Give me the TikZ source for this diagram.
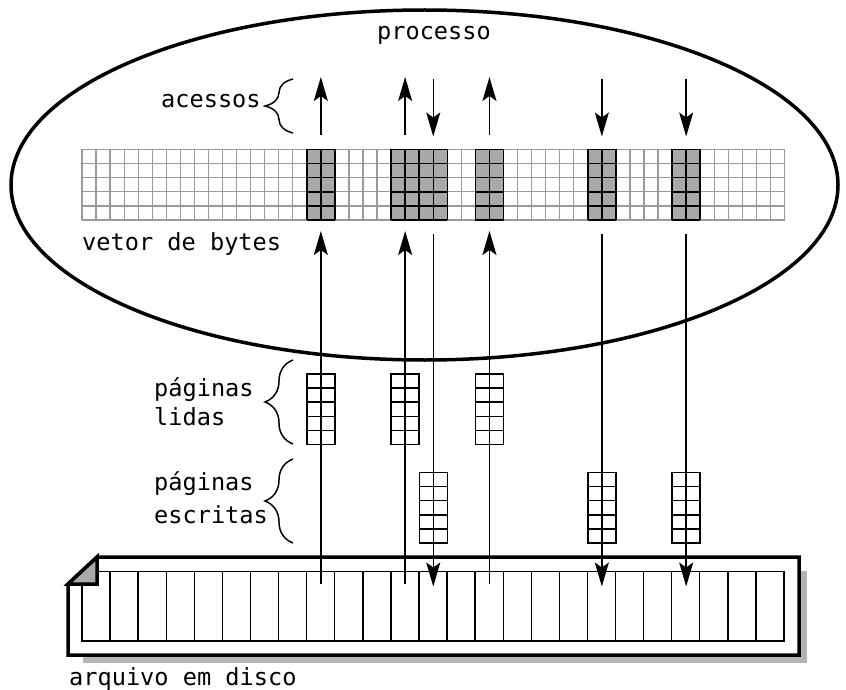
\documentclass[tikz,border=0pt]{standalone}
\usepackage{fontspec}
\newfontfamily\lblfont{DejaVu Sans Mono}
\usetikzlibrary{arrows.meta,decorations.pathreplacing}

\definecolor{cellgray}{HTML}{A9A9A9}
\definecolor{gridgray}{HTML}{9A9A9A}
\definecolor{shadowgray}{HTML}{B4B4B4}

\tikzset{
  lbl/.style={font=\lblfont\fontsize{23.6}{28}\selectfont, inner sep=0pt, anchor=base west},
  gridline/.style={draw=gridgray, line width=1.3pt},
  blockline/.style={draw=black, line width=1.5pt},
  pageline/.style={draw=black, line width=1.5pt},
  flow/.style={line width=1.5pt, -{Stealth[length=24pt, width=14pt, inset=5pt]}},
  bracket/.style={line width=1.5pt, decorate, decoration={brace, amplitude=28pt}},
  outline/.style={line width=3.5pt, line join=miter},
  pagegrid/.pic={
    \draw[pageline] (-14,0) rectangle (14,70.5);
    \draw[pageline] (0,0) -- (0,70.5);
    \foreach \j in {1,...,4} \draw[pageline] (-14,\j*14.1) -- (14,\j*14.1);
  }
}

\begin{document}
\begin{tikzpicture}[x=1pt, y=-1pt]
  % canvas
  \fill[white] (0,0) rectangle (846,690);
  \useasboundingbox (0,0) rectangle (846,690);

  % the process
  \draw[outline] (424.5,185) ellipse [x radius=413.5, y radius=175];
  \node[lbl, anchor=base] (proc) at (434,40) {processo};

  % byte vector: light grid
  \foreach \i in {0,...,50}
    \draw[gridline] ({82+\i*14.05},149.5) -- ++(0,70.5);
  \foreach \j in {0,...,5}
    \draw[gridline] (82,{149.5+\j*14.1}) -- (784.5,{149.5+\j*14.1});

  % accessed bytes
  \foreach \c/\n in {16/2, 22/4, 28/2, 36/2, 42/2} {
    \pgfmathsetmacro{\xa}{82+\c*14.05}
    \pgfmathsetmacro{\xb}{82+(\c+\n)*14.05}
    \fill[cellgray] (\xa,149.5) rectangle (\xb,220);
    \foreach \k in {0,...,\n}
      \draw[blockline] ({\xa+\k*14.05},149.5) -- ++(0,70.5);
    \foreach \j in {0,...,5}
      \draw[blockline] (\xa,{149.5+\j*14.1}) -- (\xb,{149.5+\j*14.1});
  }
  \node[lbl] (vec) at (82,250) {vetor de bytes};

  % accesses
  \node[lbl] (acc) at (161,108) {acessos};
  \draw[bracket] (293,133) -- (293,79);
  \foreach \x/\n in {320.85/a, 405.15/b, 489.45/c} {
    \coordinate (lo\n) at (\x,135);
    \coordinate (hi\n) at (\x,77);
    \draw[flow] (lo\n) -- (hi\n);
  }
  \foreach \x/\n in {433.25/d, 601.85/e, 686.15/f} {
    \coordinate (hi\n) at (\x,79);
    \coordinate (lo\n) at (\x,136.5);
    \draw[flow] (hi\n) -- (lo\n);
  }

  % pages read and written
  \node[lbl] (pl1) at (154,396) {páginas};
  \node[lbl] (pl2) at (154,425) {lidas};
  \draw[bracket] (293,444) -- (293,360);
  \node[lbl] (pe1) at (154,490) {páginas};
  \node[lbl] (pe2) at (154,523) {escritas};
  \draw[bracket] (293,543) -- (293,459);

  \pic at (320.85,374) {pagegrid};
  \pic at (405.15,374) {pagegrid};
  \pic at (489.45,374) {pagegrid};
  \pic at (433.25,472.5) {pagegrid};
  \pic at (601.85,472.5) {pagegrid};
  \pic at (686.15,472.5) {pagegrid};

  % file on disk
  \fill[shadowgray] (83,571) rectangle (807,662.5);
  \draw[outline, fill=white] (97,557) -- (799,557) -- (799,655) -- (68,655) -- (68,584) -- cycle;
  \draw[line width=1.4pt] (82,571.5) rectangle (784,641);
  \foreach \i in {1,...,24}
    \draw[line width=1.4pt] ({82+\i*28.08},571.5) -- ++(0,69.5);
  \draw[outline, fill=cellgray] (97,557) -- (97,584) -- (68,584) -- cycle;
  \node[lbl] (disk) at (69,685) {arquivo em disco};

  % transfers between file and memory
  \foreach \x/\n in {320.85/a, 405.15/b, 489.45/c} {
    \coordinate (fs\n) at (\x,584);
    \coordinate (vt\n) at (\x,231);
    \draw[flow] (fs\n) -- (vt\n);
  }
  \foreach \x/\n in {433.25/d, 601.85/e, 686.15/f} {
    \coordinate (vt\n) at (\x,234);
    \coordinate (fs\n) at (\x,586.5);
    \draw[flow] (vt\n) -- (fs\n);
  }
\end{tikzpicture}
\end{document}
